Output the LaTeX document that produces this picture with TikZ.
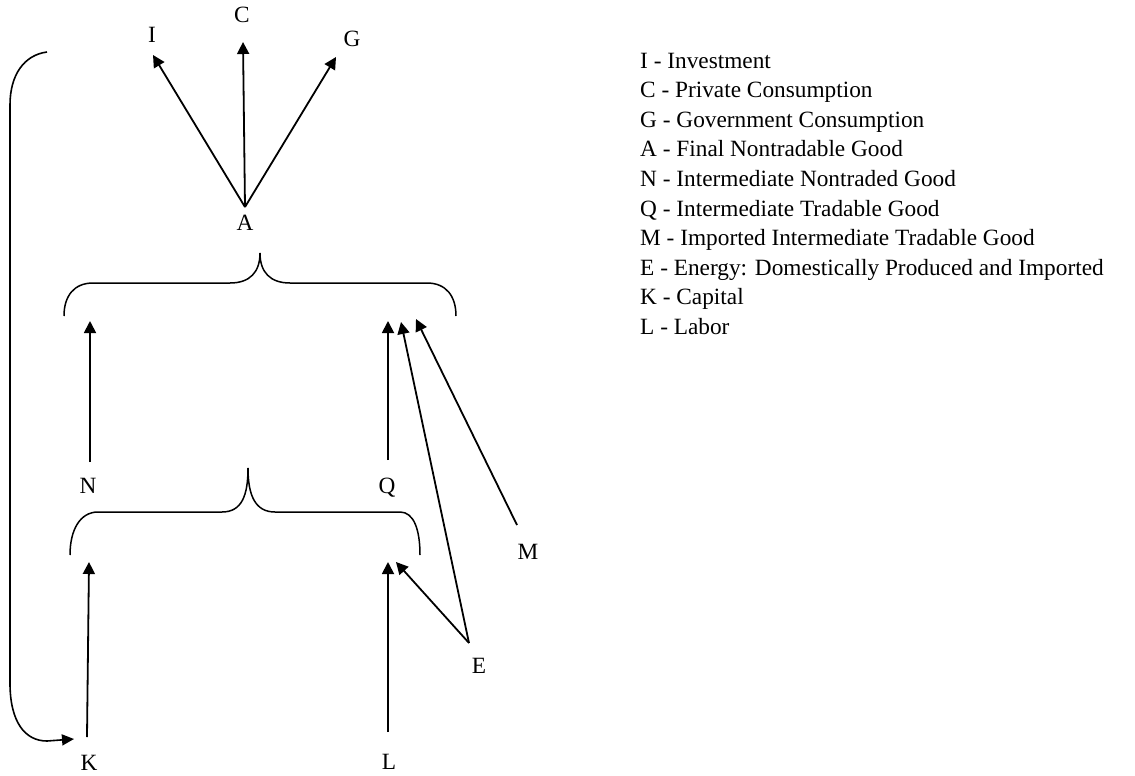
\documentclass[tikz,border=0pt]{standalone}
\usepackage{fontspec}
\setmainfont{Liberation Serif}
\usetikzlibrary{arrows.meta}
\begin{document}
\begin{tikzpicture}[x=1pt,y=-1pt,
  lbl/.style={inner sep=0pt,anchor=base,font=\fontsize{23.3}{28}\selectfont},
  leg/.style={inner sep=0pt,anchor=base west,font=\fontsize{23.3}{28}\selectfont},
  arr/.style={line width=1.8pt,-{Triangle[length=12pt,width=12pt]}},
  brace/.style={line width=1.5pt}]
\useasboundingbox (0,0) rectangle (1135,776);
% letter labels
\node[lbl] (I) at (152,43) {I};
\node[lbl] (C) at (242,23) {C};
\node[lbl] (G) at (352,47) {G};
\node[lbl] (A) at (245,230) {A};
\node[lbl] (N) at (88,493) {N};
\node[lbl] (Q) at (387,493) {Q};
\node[lbl] (M) at (528,559) {M};
\node[lbl] (E) at (479,673) {E};
\node[lbl] (K) at (89,770) {K};
\node[lbl] (L) at (389,769) {L};
% end points
\coordinate (a0) at (245,207);
\coordinate (iT) at (153,55);
\coordinate (cT) at (243,42);
\coordinate (gT) at (336,57);
\coordinate (n0) at (90,462);
\coordinate (nT) at (90,321);
\coordinate (q0) at (388,460);
\coordinate (qT) at (388,321);
\coordinate (e0) at (469,643);
\coordinate (eT1) at (401,322);
\coordinate (eT2) at (396,562);
\coordinate (m0) at (517,525);
\coordinate (mT) at (416,319);
\coordinate (k0) at (87,737);
\coordinate (kT) at (89,562);
\coordinate (l0) at (388,732);
\coordinate (lT) at (388,562);
\coordinate (b0) at (47,52);
\coordinate (bT) at (74,739);
% arrows
\draw[arr] (a0) -- (iT);
\draw[arr] (a0) -- (cT);
\draw[arr] (a0) -- (gT);
\draw[arr] (n0) -- (nT);
\draw[arr] (q0) -- (qT);
\draw[arr] (e0) -- (eT1);
\draw[arr] (e0) -- (eT2);
\draw[arr] (m0) -- (mT);
\draw[arr] (k0) -- (kT);
\draw[arr] (l0) -- (lT);
% feedback bracket
\draw[line width=1.6pt,-{Triangle[length=12pt,width=11pt]}] (b0) .. controls (24,55) and (10,75) .. (10,105) -- (10,683) .. controls (10,722) and (25,741) .. (47,741) -- (bT);
% braces
\draw[brace] (64,316) .. controls (64,296) and (74,283) .. (93,283) -- (230,283) .. controls (250,283) and (260,272) .. (260,253) .. controls (260,272) and (270,283) .. (290,283) -- (427,283) .. controls (446,283) and (456,296) .. (456,316);
\draw[brace] (70,555) .. controls (70,530) and (80,512) .. (98,512) -- (222,512) .. controls (242,512) and (248,495) .. (248,468) .. controls (248,495) and (255,512) .. (275,512) -- (400,512) .. controls (414,512) and (420,530) .. (420,555);
% legend
\node[leg] (l1) at (640,68) {I - Investment};
\node[leg] (l2) at (640,97.6) {C - Private Consumption};
\node[leg] (l3) at (640,127.2) {G - Government Consumption};
\node[leg] (l4) at (640,156.8) {A - Final Nontradable Good};
\node[leg] (l5) at (640,186.4) {N - Intermediate Nontraded Good};
\node[leg] (l6) at (640,216) {Q - Intermediate Tradable Good};
\node[leg] (l7) at (640,245.6) {M - Imported Intermediate Tradable Good};
\node[leg] (l8) at (640,275.2) {E - Energy: Domestically Produced and Imported};
\node[leg] (l9) at (640,304.8) {K - Capital};
\node[leg] (l10) at (640,334.4) {L - Labor};
\end{tikzpicture}
\end{document}
